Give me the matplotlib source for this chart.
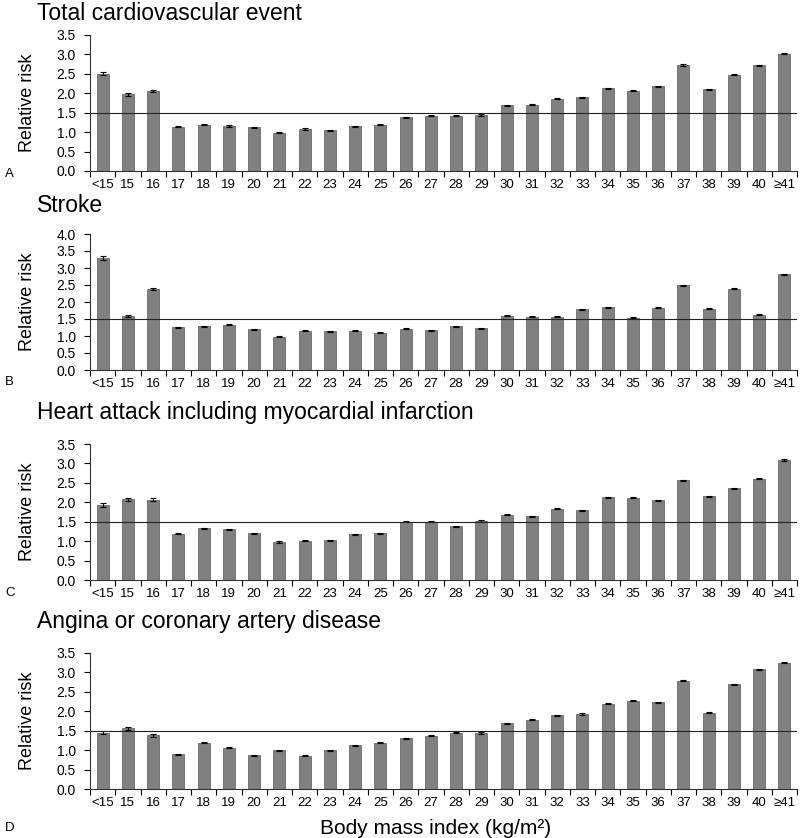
import numpy as np
import matplotlib
matplotlib.use("Agg")
import matplotlib.pyplot as plt

plt.rcParams['font.family'] = ['Liberation Sans', 'DejaVu Sans']

# body mass index categories
bmi = ["<15", "15", "16", "17", "18", "19", "20", "21", "22", "23", "24", "25", "26",
       "27", "28", "29", "30", "31", "32", "33", "34", "35", "36", "37", "38", "39", "40", "\u226541"]

total_cv = [2.50, 1.97, 2.06, 1.14, 1.19, 1.16, 1.13, 0.99, 1.08, 1.05, 1.15, 1.19, 1.38,
            1.42, 1.42, 1.44, 1.69, 1.71, 1.86, 1.90, 2.13, 2.07, 2.18, 2.73, 2.10, 2.48, 2.72, 3.02]
stroke = [3.29, 1.59, 2.39, 1.26, 1.28, 1.33, 1.20, 0.98, 1.16, 1.14, 1.16, 1.10, 1.22,
          1.17, 1.28, 1.23, 1.60, 1.57, 1.57, 1.78, 1.85, 1.54, 1.83, 2.49, 1.80, 2.39, 1.63, 2.81]
heart = [1.94, 2.08, 2.07, 1.19, 1.33, 1.30, 1.20, 0.98, 1.01, 1.02, 1.18, 1.20, 1.50,
         1.50, 1.38, 1.52, 1.68, 1.64, 1.84, 1.79, 2.13, 2.12, 2.05, 2.57, 2.15, 2.36, 2.61, 3.09]
angina = [1.45, 1.56, 1.38, 0.89, 1.19, 1.06, 0.87, 1.00, 0.86, 1.00, 1.12, 1.19, 1.31,
          1.37, 1.45, 1.44, 1.69, 1.78, 1.90, 1.93, 2.20, 2.27, 2.23, 2.79, 1.96, 2.69, 3.08, 3.25]

# standard errors (small)
err_total = [0.04, 0.03, 0.02] + [0.015] * 25
err_stroke = [0.06, 0.03, 0.03] + [0.015] * 25
err_heart = [0.05, 0.04, 0.03] + [0.015] * 25
err_angina = [0.04, 0.04, 0.03] + [0.015] * 25

titles = ["Total cardiovascular event", "Stroke",
          "Heart attack including myocardial infarction", "Angina or coronary artery disease"]
letters = ["A", "B", "C", "D"]
ymaxes = [3.5, 4.0, 3.5, 3.5]
series = [total_cv, stroke, heart, angina]
errs = [err_total, err_stroke, err_heart, err_angina]

W, H = 800, 838
fig = plt.figure(figsize=(8, 8.38), dpi=100)

# pixel layout: (axis bottom, axis top, title y, letter y)
layout = [(171, 35, 13, 174), (370, 234, 205, 382), (580, 444, 413, 593), (789, 653, 621, 828)]

x = np.arange(len(bmi))
for k in range(4):
    yb, yt, ty, ly = layout[k]
    ax = fig.add_axes([90 / W, 1 - yb / H, (797 - 90) / W, (yb - yt) / H])
    ax.bar(x, series[k], width=0.47, color="#808080", edgecolor="#6a6a6a", linewidth=0.6,
           yerr=errs[k], error_kw=dict(ecolor="black", elinewidth=0.8, capsize=2, capthick=0.8),
           zorder=2)
    ax.axhline(1.5, color="#222222", linewidth=0.8, zorder=3)
    ax.set_xlim(-0.5, len(bmi) - 0.5)
    ax.set_ylim(0, ymaxes[k])
    ax.set_yticks(np.arange(0, ymaxes[k] + 0.01, 0.5))
    ax.set_yticklabels(["%.1f" % v for v in np.arange(0, ymaxes[k] + 0.01, 0.5)], fontsize=10)
    ax.set_xticks(x)
    ax.set_xticklabels(bmi, fontsize=9.5)
    ax.set_xticks(np.arange(-0.5, len(bmi), 1.0), minor=True)
    ax.tick_params(axis="x", which="major", length=0, pad=6)
    ax.tick_params(axis="x", which="minor", length=4, direction="out", width=0.8)
    ax.tick_params(axis="y", length=4, direction="out", width=0.8, pad=6)
    for s in ["top", "right"]:
        ax.spines[s].set_visible(False)
    for s in ["left", "bottom"]:
        ax.spines[s].set_linewidth(0.8)
        ax.spines[s].set_color("#333333")
    fig.text(28 / W, 1 - (yb + yt) / 2 / H, "Relative risk", rotation=90,
             ha="center", va="center", fontsize=13)
    fig.text(37 / W, 1 - ty / H, titles[k], ha="left", va="center", fontsize=16.5)
    fig.text(5 / W, 1 - ly / H, letters[k], ha="left", va="center", fontsize=9.5)

fig.text(436 / W, 1 - 828 / H, "Body mass index (kg/m\u00b2)", ha="center", va="center", fontsize=15)

fig.savefig("out.png", dpi=100)
